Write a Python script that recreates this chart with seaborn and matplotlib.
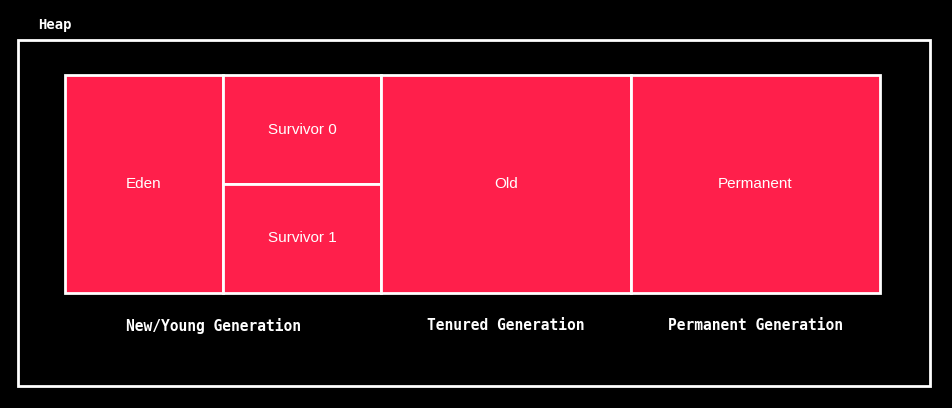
import matplotlib
matplotlib.use("Agg")
import matplotlib.pyplot as plt
import seaborn as sns
import numpy as np

sns.set_theme(style="white")
plt.rcParams['font.family'] = ['Liberation Sans', 'DejaVu Sans']

# 区域数据（像素单位）
regions = ['Eden', 'Survivor 0', 'Survivor 1', 'Old', 'Permanent']
widths = [158, 158, 158, 250, 249]
heights = [218, 109, 109, 218, 218]
column = [0, 1, 1, 2, 3]
stack = [0, 0, 1, 0, 0]
gen_labels = ['New/Young Generation', 'Tenured Generation', 'Permanent Generation']
gen_centers = [214, 506, 756]

red = '#FF1F4B'
fig = plt.figure(figsize=(9.53, 4.08), dpi=100, facecolor='black')
ax = fig.add_axes([0, 0, 1, 1])
ax.set_facecolor('black')
ax.set_xlim(0, 953)
ax.set_ylim(408, 0)
ax.axis('off')

# 外框 Heap
ax.add_patch(plt.Rectangle((18, 40), 912, 346, fill=False, edgecolor='white', lw=2))
ax.text(38, 25, 'Heap', color='white', fontsize=10, fontweight='bold',
        family='DejaVu Sans Mono', va='center')

# 计算每列的左边位置
col_w = [158, 158, 250, 249]
col_left = 65 + np.concatenate([[0], np.cumsum(col_w)[:-1]])
top = 75
for name, w, h, c, s in zip(regions, widths, heights, column, stack):
    y0 = top + s * 109
    ax.bar(col_left[c], h, width=w, bottom=y0, align='edge',
           color=red, edgecolor='white', linewidth=2)
    ax.text(col_left[c] + w / 2, y0 + h / 2, name, color='white',
            fontsize=11, ha='center', va='center')

for lab, cx in zip(gen_labels, gen_centers):
    ax.text(cx, 326, lab, color='white', fontsize=10.5, fontweight='bold',
            family='DejaVu Sans Mono', ha='center', va='center')

fig.savefig('out.png', dpi=100, facecolor='black')
